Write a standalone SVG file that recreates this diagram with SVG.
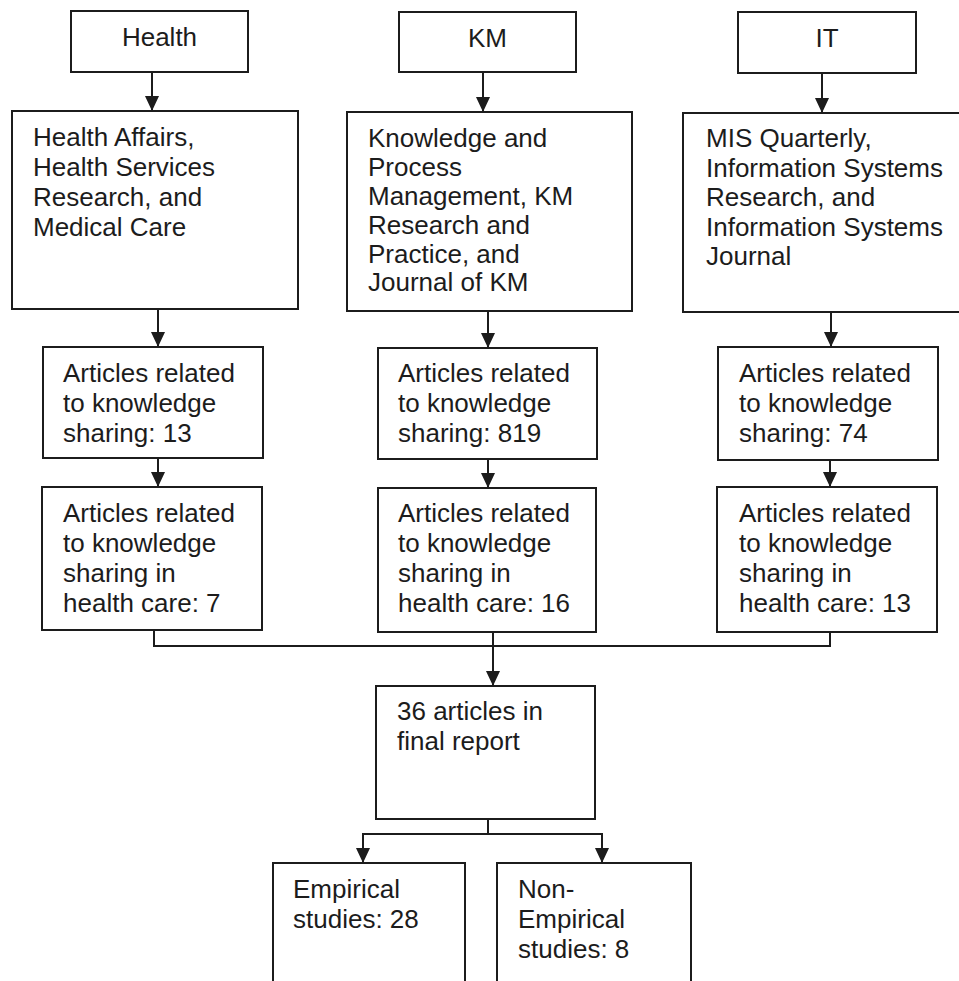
<svg xmlns="http://www.w3.org/2000/svg" width="959" height="981" viewBox="0 0 959 981">
<defs>
<marker id="ah" markerUnits="userSpaceOnUse" markerWidth="15" markerHeight="14" refX="15" refY="7" orient="auto">
<path d="M0,0 L15,7 L0,14 z" fill="#1c1c1c"/>
</marker>
<style>
rect{fill:#fff;stroke:#1c1c1c;stroke-width:2}
text{font-family:"Liberation Sans",Arial,sans-serif;font-size:26px;fill:#1c1c1c}
.c{stroke:#1c1c1c;stroke-width:2;fill:none}
.a{marker-end:url(#ah)}
.m{text-anchor:middle}
</style>
</defs>
<rect x="0" y="0" width="959" height="981" style="fill:#fff;stroke:none"/>
<g id="connectors">
<line class="c a" x1="152" y1="72" x2="152" y2="111"/>
<line class="c a" x1="483" y1="72" x2="483" y2="112"/>
<line class="c a" x1="822" y1="73" x2="822" y2="113"/>
<line class="c a" x1="158" y1="309" x2="158" y2="347"/>
<line class="c a" x1="488" y1="311" x2="488" y2="348"/>
<line class="c a" x1="831" y1="312" x2="831" y2="347"/>
<line class="c a" x1="158" y1="458" x2="158" y2="487"/>
<line class="c a" x1="488" y1="459" x2="488" y2="488"/>
<line class="c a" x1="830" y1="460" x2="830" y2="487"/>
<polyline class="c" points="154,630 154,646 830,646 830,632"/>
<line class="c a" x1="493" y1="632" x2="493" y2="686"/>
<polyline class="c" points="488,819 488,834"/>
<polyline class="c a" points="488,834 363,834 363,863"/>
<polyline class="c a" points="488,834 602,834 602,863"/>
</g>
<g id="health"><rect x="71" y="11" width="177" height="61"/><text class="m" x="159.5" y="46">Health</text></g>
<g id="km"><rect x="399" y="12" width="177" height="60"/><text class="m" x="487.5" y="47">KM</text></g>
<g id="it"><rect x="738" y="12" width="178" height="61"/><text class="m" x="827" y="47">IT</text></g>
<g id="health-journals"><rect x="12" y="111" width="286" height="198"/>
<text x="33" y="146">Health Affairs,</text><text x="33" y="176">Health Services</text><text x="33" y="205.5">Research, and</text><text x="33" y="235.5">Medical Care</text></g>
<g id="km-journals"><rect x="347" y="112" width="285" height="199"/>
<text x="368" y="147">Knowledge and</text><text x="368" y="176">Process</text><text x="368" y="205">Management, KM</text><text x="368" y="234">Research and</text><text x="368" y="262.5">Practice, and</text><text x="368" y="291">Journal of KM</text></g>
<g id="it-journals"><rect x="683" y="113" width="280" height="199"/>
<text x="706" y="147">MIS Quarterly,</text><text x="706" y="177">Information Systems</text><text x="706" y="206">Research, and</text><text x="706" y="235.5">Information Systems</text><text x="706" y="265">Journal</text></g>
<g id="health-ks"><rect x="43" y="347" width="220" height="111"/>
<text x="63" y="382">Articles related</text><text x="63" y="412">to knowledge</text><text x="63" y="442">sharing: 13</text></g>
<g id="km-ks"><rect x="378" y="348" width="219" height="111"/>
<text x="398" y="382">Articles related</text><text x="398" y="412">to knowledge</text><text x="398" y="442">sharing: 819</text></g>
<g id="it-ks"><rect x="718" y="347" width="220" height="113"/>
<text x="739" y="382">Articles related</text><text x="739" y="412">to knowledge</text><text x="739" y="442">sharing: 74</text></g>
<g id="health-hc"><rect x="42" y="487" width="220" height="143"/>
<text x="63" y="522">Articles related</text><text x="63" y="552">to knowledge</text><text x="63" y="582">sharing in</text><text x="63" y="612">health care: 7</text></g>
<g id="km-hc"><rect x="378" y="488" width="218" height="144"/>
<text x="398" y="522">Articles related</text><text x="398" y="552">to knowledge</text><text x="398" y="582">sharing in</text><text x="398" y="612">health care: 16</text></g>
<g id="it-hc"><rect x="717" y="487" width="220" height="145"/>
<text x="739" y="522">Articles related</text><text x="739" y="552">to knowledge</text><text x="739" y="582">sharing in</text><text x="739" y="612">health care: 13</text></g>
<g id="final"><rect x="376" y="686" width="219" height="133"/>
<text x="397" y="720">36 articles in</text><text x="397" y="750">final report</text></g>
<g id="empirical"><rect x="273" y="863" width="192" height="130"/>
<text x="293" y="898">Empirical</text><text x="293" y="928">studies: 28</text></g>
<g id="non-empirical"><rect x="497" y="863" width="194" height="130"/>
<text x="518" y="898">Non-</text><text x="518" y="928">Empirical</text><text x="518" y="958">studies: 8</text></g>
</svg>
